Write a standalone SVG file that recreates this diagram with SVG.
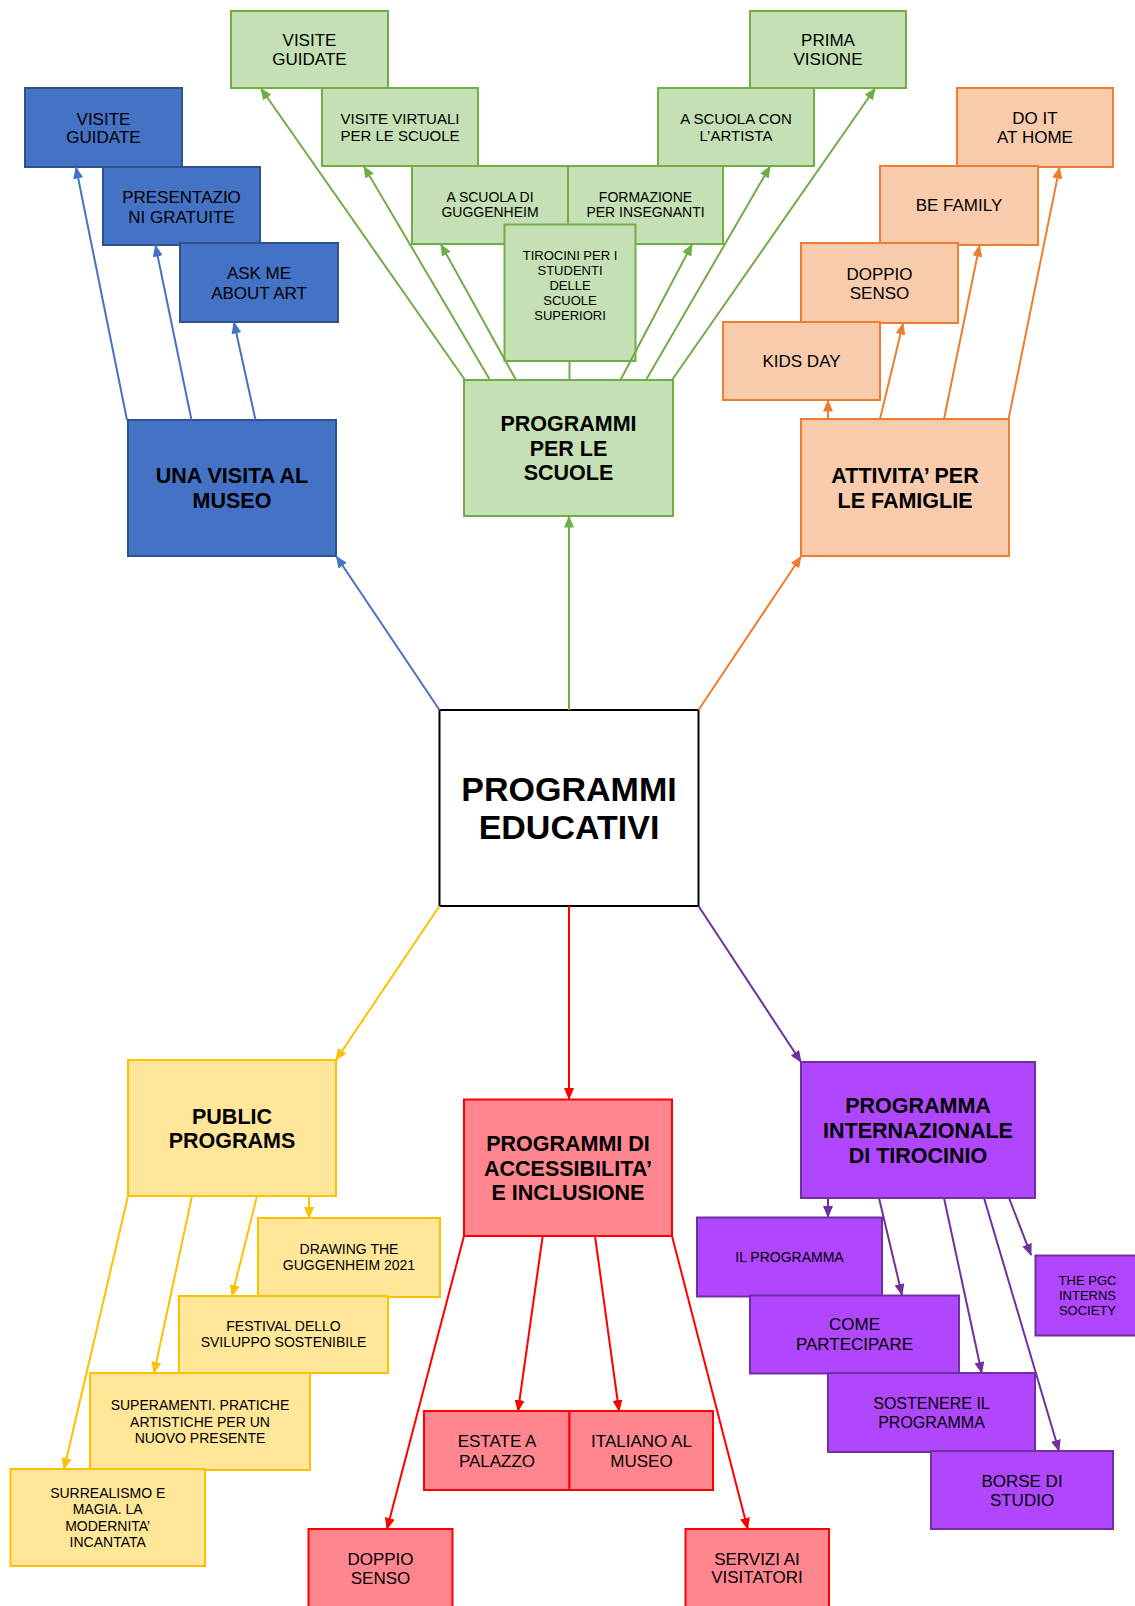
<svg xmlns="http://www.w3.org/2000/svg" width="1135" height="1606" viewBox="0 0 1135 1606">
<style>
text{font-family:"Liberation Sans",Arial,sans-serif;fill:#000;text-anchor:middle}
.b{font-weight:bold;font-size:21.5px}
.big{font-weight:bold;font-size:34px}
.f17{font-size:17px}.f16{font-size:16px}.f15{font-size:15px}.f14{font-size:14px}.f13{font-size:13px}
rect{stroke-width:2}
.blue{fill:#4472C4;stroke:#2F528F}
.green{fill:#C5E0B4;stroke:#70AD47}
.orange{fill:#F8CBAD;stroke:#ED7D31}
.yellow{fill:#FFE699;stroke:#FFC000}
.red{fill:#FF868F;stroke:#FF0000}
.purple{fill:#B047FF;stroke:#7030A0}
.main{fill:#FFFFFF;stroke:#000000}
line{stroke-width:2;fill:none}
.cb{stroke:#4472C4;marker-end:url(#ab)}
.cg{stroke:#70AD47;marker-end:url(#ag)}
.co{stroke:#ED7D31;marker-end:url(#ao)}
.cy{stroke:#FFC000;marker-end:url(#ay)}
.cr{stroke:#FF0000;marker-end:url(#ar)}
.cp{stroke:#7030A0;marker-end:url(#ap)}
</style>
<defs>
<marker id="ab" viewBox="0 0 12 10" refX="11" refY="5" markerWidth="12" markerHeight="10" markerUnits="userSpaceOnUse" orient="auto"><path d="M0,0 L12,5 L0,10 z" fill="#4472C4"/></marker>
<marker id="ag" viewBox="0 0 12 10" refX="11" refY="5" markerWidth="12" markerHeight="10" markerUnits="userSpaceOnUse" orient="auto"><path d="M0,0 L12,5 L0,10 z" fill="#70AD47"/></marker>
<marker id="ao" viewBox="0 0 12 10" refX="11" refY="5" markerWidth="12" markerHeight="10" markerUnits="userSpaceOnUse" orient="auto"><path d="M0,0 L12,5 L0,10 z" fill="#ED7D31"/></marker>
<marker id="ay" viewBox="0 0 12 10" refX="11" refY="5" markerWidth="12" markerHeight="10" markerUnits="userSpaceOnUse" orient="auto"><path d="M0,0 L12,5 L0,10 z" fill="#FFC000"/></marker>
<marker id="ar" viewBox="0 0 12 10" refX="11" refY="5" markerWidth="12" markerHeight="10" markerUnits="userSpaceOnUse" orient="auto"><path d="M0,0 L12,5 L0,10 z" fill="#FF0000"/></marker>
<marker id="ap" viewBox="0 0 12 10" refX="11" refY="5" markerWidth="12" markerHeight="10" markerUnits="userSpaceOnUse" orient="auto"><path d="M0,0 L12,5 L0,10 z" fill="#7030A0"/></marker>
</defs>
<rect x="0" y="0" width="1135" height="1606" fill="#FFFFFF" style="stroke:none"/>

<!-- central -->
<g id="n_central"><rect class="main" x="439.5" y="710" width="259" height="196"/><text class="big" x="569" y="801">PROGRAMMI</text><text class="big" x="569" y="839">EDUCATIVI</text></g>

<!-- blue -->
<g id="n_visita"><rect class="blue" x="128" y="420" width="208" height="136"/><text class="b" x="232" y="482.7">UNA VISITA AL</text><text class="b" x="232" y="507.7">MUSEO</text></g>
<g id="b_visite"><rect class="blue" x="25" y="88" width="157" height="79"/><text class="f17" x="103.5" y="124.6">VISITE</text><text class="f17" x="103.5" y="143.1">GUIDATE</text></g>
<g id="b_present"><rect class="blue" x="103" y="167" width="157" height="78"/><text class="f17" x="181.5" y="203.1">PRESENTAZIO</text><text class="f17" x="181.5" y="222.6">NI GRATUITE</text></g>
<g id="b_ask"><rect class="blue" x="180" y="243" width="158" height="79"/><text class="f17" x="259" y="279.1">ASK ME</text><text class="f17" x="259" y="298.6">ABOUT ART</text></g>

<!-- green -->
<g id="n_scuole"><rect class="green" x="464" y="380" width="209" height="136"/><text class="b" x="568.5" y="430.7">PROGRAMMI</text><text class="b" x="568.5" y="455.7">PER LE</text><text class="b" x="568.5" y="479.7">SCUOLE</text></g>
<g id="g_visite"><rect class="green" x="231" y="11" width="157" height="77"/><text class="f17" x="309.5" y="45.6">VISITE</text><text class="f17" x="309.5" y="64.6">GUIDATE</text></g>
<g id="g_virtuali"><rect class="green" x="322" y="88" width="156" height="78"/><text class="f15" x="400" y="124">VISITE VIRTUALI</text><text class="f15" x="400" y="140.7">PER LE SCUOLE</text></g>
<g id="g_guggen"><rect class="green" x="412" y="166" width="156" height="78"/><text class="f14" x="490" y="202.3">A SCUOLA DI</text><text class="f14" x="490" y="217.3">GUGGENHEIM</text></g>
<g id="g_formaz"><rect class="green" x="568" y="166" width="155" height="78"/><text class="f14" x="645.5" y="202.3">FORMAZIONE</text><text class="f14" x="645.5" y="217.3">PER INSEGNANTI</text></g>
<g id="g_tirocini"><rect class="green" x="504.5" y="224.5" width="131" height="136.5"/><text class="f13" x="570" y="260.4">TIROCINI PER I</text><text class="f13" x="570" y="275.4">STUDENTI</text><text class="f13" x="570" y="290.4">DELLE</text><text class="f13" x="570" y="305.4">SCUOLE</text><text class="f13" x="570" y="320">SUPERIORI</text></g>
<g id="g_artista"><rect class="green" x="658" y="88" width="156" height="78"/><text class="f15" x="736" y="124">A SCUOLA CON</text><text class="f15" x="736" y="141.3">L’ARTISTA</text></g>
<g id="g_prima"><rect class="green" x="750" y="11" width="156" height="77"/><text class="f17" x="828" y="46.1">PRIMA</text><text class="f17" x="828" y="65.1">VISIONE</text></g>

<!-- orange -->
<g id="n_famiglie"><rect class="orange" x="801" y="419" width="208" height="137"/><text class="b" x="905" y="482.7">ATTIVITA’ PER</text><text class="b" x="905" y="507.7">LE FAMIGLIE</text></g>
<g id="o_doit"><rect class="orange" x="957" y="88" width="156" height="79"/><text class="f17" x="1035" y="124.1">DO IT</text><text class="f17" x="1035" y="143.1">AT HOME</text></g>
<g id="o_befamily"><rect class="orange" x="880" y="166" width="158" height="79"/><text class="f17" x="959" y="211.1">BE FAMILY</text></g>
<g id="o_doppio"><rect class="orange" x="801" y="243" width="157" height="80"/><text class="f17" x="879.5" y="280.1">DOPPIO</text><text class="f17" x="879.5" y="298.8">SENSO</text></g>
<g id="o_kids"><rect class="orange" x="723" y="322" width="157" height="78"/><text class="f17" x="801.5" y="367.1">KIDS DAY</text></g>

<!-- yellow -->
<g id="n_public"><rect class="yellow" x="128" y="1060" width="208" height="136"/><text class="b" x="232" y="1123.5">PUBLIC</text><text class="b" x="232" y="1147.7">PROGRAMS</text></g>
<g id="y_drawing"><rect class="yellow" x="258" y="1218" width="182" height="79"/><text class="f14" x="349" y="1254.4">DRAWING THE</text><text class="f14" x="349" y="1270">GUGGENHEIM 2021</text></g>
<g id="y_festival"><rect class="yellow" x="179" y="1296" width="209" height="77"/><text class="f14" x="283.5" y="1331">FESTIVAL DELLO</text><text class="f14" x="283.5" y="1347">SVILUPPO SOSTENIBILE</text></g>
<g id="y_superam"><rect class="yellow" x="90" y="1373" width="220" height="97"/><text class="f14" x="200" y="1410">SUPERAMENTI. PRATICHE</text><text class="f14" x="200" y="1426.6">ARTISTICHE PER UN</text><text class="f14" x="200" y="1442.8">NUOVO PRESENTE</text></g>
<g id="y_surreal"><rect class="yellow" x="10.5" y="1469" width="194.5" height="97"/><text class="f14" x="107.7" y="1498">SURREALISMO E</text><text class="f14" x="107.7" y="1514.3">MAGIA. LA</text><text class="f14" x="107.7" y="1530.6">MODERNITA’</text><text class="f14" x="107.7" y="1546.8">INCANTATA</text></g>

<!-- red -->
<g id="n_access"><rect class="red" x="464" y="1099.5" width="208" height="136.5"/><text class="b" x="568" y="1150.7">PROGRAMMI DI</text><text class="b" x="568" y="1175.7">ACCESSIBILITA’</text><text class="b" x="568" y="1200.1">E INCLUSIONE</text></g>
<g id="r_doppio"><rect class="red" x="308.5" y="1529" width="144" height="90"/><text class="f17" x="380.5" y="1565.1">DOPPIO</text><text class="f17" x="380.5" y="1583.6">SENSO</text></g>
<g id="r_estate"><rect class="red" x="424" y="1411" width="145.5" height="79"/><text class="f17" x="497" y="1447.1">ESTATE A</text><text class="f17" x="497" y="1467.1">PALAZZO</text></g>
<g id="r_italiano"><rect class="red" x="569.5" y="1411" width="143.5" height="79"/><text class="f17" x="641.5" y="1447.1">ITALIANO AL</text><text class="f17" x="641.5" y="1467.1">MUSEO</text></g>
<g id="r_servizi"><rect class="red" x="685.5" y="1529" width="143.5" height="90"/><text class="f17" x="757" y="1565.1">SERVIZI AI</text><text class="f17" x="757" y="1583.4">VISITATORI</text></g>

<!-- purple -->
<g id="n_tirocinio"><rect class="purple" x="801" y="1062" width="234" height="136"/><text class="b" x="918" y="1112.7">PROGRAMMA</text><text class="b" x="918" y="1137.7">INTERNAZIONALE</text><text class="b" x="918" y="1162.7">DI TIROCINIO</text></g>
<g id="p_ilprog"><rect class="purple" x="697" y="1217.5" width="185" height="79"/><text class="f14" x="789.5" y="1261.7">IL PROGRAMMA</text></g>
<g id="p_come"><rect class="purple" x="750" y="1295.5" width="209" height="78"/><text class="f17" x="854.5" y="1330.1">COME</text><text class="f17" x="854.5" y="1350.4">PARTECIPARE</text></g>
<g id="p_sostenere"><rect class="purple" x="828" y="1373" width="207" height="79"/><text class="f16" x="931.5" y="1408.8">SOSTENERE IL</text><text class="f16" x="931.5" y="1427.5">PROGRAMMA</text></g>
<g id="p_borse"><rect class="purple" x="931" y="1451" width="182" height="78"/><text class="f17" x="1022" y="1487.1">BORSE DI</text><text class="f17" x="1022" y="1506.1">STUDIO</text></g>
<g id="p_pgc"><rect class="purple" x="1035.5" y="1255.5" width="104" height="80"/><text class="f13" x="1087.5" y="1284.7">THE PGC</text><text class="f13" x="1087.5" y="1299.7">INTERNS</text><text class="f13" x="1087.5" y="1314.7">SOCIETY</text></g>

<g id="connectors">
<line class="cb" x1="439.5" y1="710" x2="336.5" y2="556.5"/>
<line class="cg" x1="569" y1="710" x2="569" y2="516.5"/>
<line class="co" x1="698.5" y1="710" x2="801" y2="556.5"/>
<line class="cy" x1="439.5" y1="906" x2="336" y2="1060"/>
<line class="cr" x1="569" y1="906" x2="569" y2="1099"/>
<line class="cp" x1="698.5" y1="906" x2="801" y2="1062"/>

<line class="cb" x1="127" y1="420" x2="76" y2="167.5"/>
<line class="cb" x1="191.5" y1="420" x2="155.5" y2="245.5"/>
<line class="cb" x1="255.5" y1="420" x2="234" y2="322.5"/>

<line class="cg" x1="465" y1="380" x2="261" y2="88.5"/>
<line class="cg" x1="490" y1="380" x2="364" y2="166.5"/>
<line class="cg" x1="516" y1="380" x2="441" y2="244.5"/>
<line style="stroke:#70AD47" x1="569.5" y1="380" x2="569.5" y2="361"/>
<line class="cg" x1="620.5" y1="380" x2="692" y2="244.5"/>
<line class="cg" x1="646" y1="380" x2="770" y2="166.5"/>
<line class="cg" x1="672" y1="380" x2="875" y2="88.5"/>

<line class="co" x1="828" y1="419" x2="828" y2="400.5"/>
<line class="co" x1="880" y1="419" x2="903" y2="323.5"/>
<line class="co" x1="944" y1="419" x2="979.5" y2="245.5"/>
<line class="co" x1="1008.6" y1="419" x2="1059.5" y2="167.5"/>

<line class="cy" x1="309" y1="1196" x2="309" y2="1218"/>
<line class="cy" x1="257" y1="1196" x2="232" y2="1296"/>
<line class="cy" x1="192" y1="1196" x2="154" y2="1373"/>
<line class="cy" x1="128" y1="1196" x2="64" y2="1469"/>

<line class="cr" x1="464" y1="1236" x2="387" y2="1529"/>
<line class="cr" x1="542.7" y1="1236" x2="518" y2="1411"/>
<line class="cr" x1="595" y1="1236" x2="619" y2="1411"/>
<line class="cr" x1="672" y1="1236" x2="747.7" y2="1529"/>

<line class="cp" x1="828" y1="1198" x2="828" y2="1217"/>
<line class="cp" x1="879" y1="1198" x2="902" y2="1295"/>
<line class="cp" x1="944" y1="1198" x2="981.7" y2="1373"/>
<line class="cp" x1="984" y1="1198" x2="1059" y2="1451"/>
<line class="cp" x1="1009" y1="1198" x2="1031" y2="1255"/>
</g>
</svg>
